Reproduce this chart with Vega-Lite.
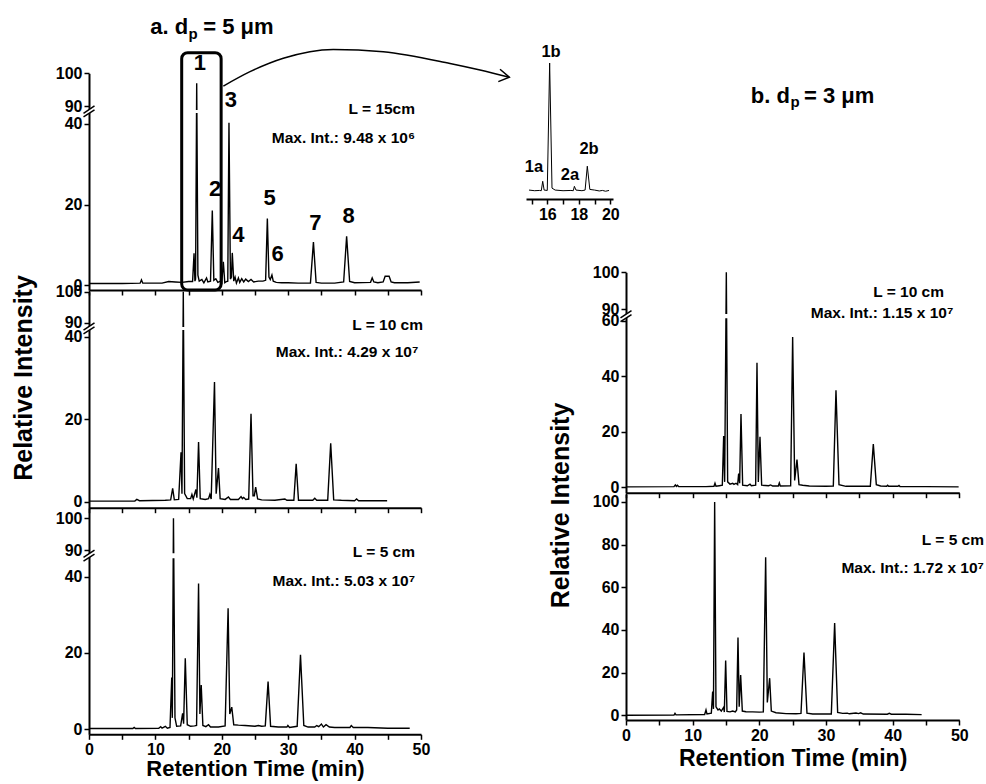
{
"$schema": "https://vega.github.io/schema/vega-lite/v6.json",
"width": 986, "height": 784, "autosize": "none", "padding": 0, "background": "white",
"config": {
 "view": {"stroke": null},
 "font": "Liberation Sans",
 "axis": {"grid": false, "domainColor": "black", "domainWidth": 2, "tickColor": "black", "tickWidth": 1.5, "tickSize": 5, "labelFont": "Liberation Sans", "labelFontWeight": "bold", "labelFontSize": 16, "labelColor": "black", "labelPadding": 2, "labelFlush": false, "labelOverlap": false, "titleFont": "Liberation Sans", "titleFontWeight": "bold", "titleColor": "black"},
 "text": {"font": "Liberation Sans", "fontWeight": "bold", "color": "black"}
},
"datasets": {
 "tl": [{"t":0.1,"v":0.4},{"t":5,"v":0.4},{"t":7.7,"v":0.5},{"t":7.9,"v":1.3},{"t":8.1,"v":0.5},{"t":11,"v":0.5},{"t":12,"v":0.9},{"t":13,"v":0.8},{"t":14,"v":0.7},{"t":15,"v":0.9},{"t":15.6,"v":0.9},{"t":15.82,"v":7.9},{"t":15.95,"v":1.0},{"t":16.05,"v":1.5},{"t":16.22,"v":97},{"t":16.4,"v":2.5},{"t":16.6,"v":1.0},{"t":17.0,"v":1.4},{"t":17.3,"v":0.6},{"t":17.7,"v":1.8},{"t":17.9,"v":0.8},{"t":18.3,"v":1.0},{"t":18.57,"v":18.5},{"t":18.8,"v":1.2},{"t":19.1,"v":1.6},{"t":19.4,"v":0.7},{"t":19.8,"v":1.0},{"t":20.0,"v":0.6},{"t":20.23,"v":5.8},{"t":20.45,"v":0.6},{"t":20.7,"v":0.9},{"t":20.9,"v":1.0},{"t":21.08,"v":40.3},{"t":21.3,"v":1.5},{"t":21.45,"v":2.0},{"t":21.58,"v":8.0},{"t":21.8,"v":1.0},{"t":22.0,"v":2.0},{"t":22.2,"v":0.5},{"t":22.5,"v":1.8},{"t":22.7,"v":0.7},{"t":23.0,"v":1.6},{"t":23.3,"v":0.8},{"t":23.6,"v":1.5},{"t":24.0,"v":0.9},{"t":24.4,"v":1.4},{"t":24.8,"v":0.8},{"t":25.5,"v":1.0},{"t":26.2,"v":1.0},{"t":26.6,"v":1.2},{"t":26.86,"v":16.5},{"t":27.1,"v":2.0},{"t":27.3,"v":1.4},{"t":27.55,"v":2.5},{"t":27.75,"v":1.0},{"t":28.2,"v":0.7},{"t":29,"v":0.6},{"t":30,"v":0.6},{"t":31.5,"v":0.5},{"t":33.35,"v":0.5},{"t":33.8,"v":10.7},{"t":34.2,"v":0.7},{"t":35,"v":0.5},{"t":37,"v":0.5},{"t":38.35,"v":0.8},{"t":38.8,"v":12.1},{"t":39.25,"v":0.9},{"t":40,"v":0.6},{"t":42.4,"v":0.7},{"t":42.65,"v":1.8},{"t":42.9,"v":0.8},{"t":43.5,"v":0.6},{"t":44.3,"v":0.8},{"t":44.6,"v":2.2},{"t":45.2,"v":2.2},{"t":45.5,"v":0.8},{"t":46,"v":0.6},{"t":48,"v":0.6},{"t":49.8,"v":0.8}],
 "ml": [{"t":0.1,"v":0.2},{"t":6.9,"v":0.2},{"t":7.2,"v":0.6},{"t":7.6,"v":0.3},{"t":11.5,"v":0.4},{"t":12.3,"v":0.5},{"t":12.6,"v":3.3},{"t":12.85,"v":0.5},{"t":13.5,"v":0.6},{"t":13.86,"v":12},{"t":14.0,"v":2},{"t":14.2,"v":100},{"t":14.4,"v":2},{"t":14.8,"v":0.8},{"t":15.3,"v":0.8},{"t":15.5,"v":1.8},{"t":15.7,"v":0.7},{"t":16.1,"v":3.0},{"t":16.25,"v":1.0},{"t":16.5,"v":14.5},{"t":16.75,"v":0.8},{"t":17.5,"v":0.6},{"t":18.0,"v":0.8},{"t":18.2,"v":1.8},{"t":18.4,"v":0.7},{"t":18.9,"v":29},{"t":19.15,"v":2},{"t":19.5,"v":8.2},{"t":19.75,"v":0.8},{"t":20.5,"v":0.6},{"t":21.0,"v":1.2},{"t":21.3,"v":0.6},{"t":22.5,"v":0.6},{"t":22.9,"v":1.3},{"t":23.1,"v":0.8},{"t":23.3,"v":1.1},{"t":23.6,"v":0.6},{"t":24.05,"v":0.7},{"t":24.4,"v":21.3},{"t":24.7,"v":1.5},{"t":24.9,"v":1.5},{"t":25.1,"v":3.6},{"t":25.4,"v":0.7},{"t":26,"v":0.5},{"t":28,"v":0.4},{"t":29.5,"v":0.7},{"t":29.8,"v":0.4},{"t":30.85,"v":0.4},{"t":31.2,"v":9.2},{"t":31.55,"v":0.4},{"t":33.7,"v":0.4},{"t":34.0,"v":0.9},{"t":34.3,"v":0.4},{"t":35.95,"v":0.4},{"t":36.4,"v":14.2},{"t":36.85,"v":0.5},{"t":38,"v":0.4},{"t":40.0,"v":0.3},{"t":40.3,"v":0.7},{"t":40.6,"v":0.3},{"t":44.9,"v":0.3}],
 "bl": [{"t":0.1,"v":0.2},{"t":6.6,"v":0.2},{"t":6.8,"v":0.5},{"t":7.0,"v":0.2},{"t":10.5,"v":0.3},{"t":10.8,"v":0.7},{"t":11.0,"v":0.3},{"t":11.5,"v":0.8},{"t":11.8,"v":0.3},{"t":12.2,"v":0.5},{"t":12.46,"v":13.6},{"t":12.55,"v":3},{"t":12.72,"v":100},{"t":12.95,"v":3},{"t":13.2,"v":0.8},{"t":13.8,"v":0.9},{"t":14.1,"v":4.2},{"t":14.25,"v":1.5},{"t":14.5,"v":18.6},{"t":14.8,"v":1.2},{"t":15.3,"v":0.8},{"t":15.9,"v":0.9},{"t":16.2,"v":1.0},{"t":16.5,"v":38.2},{"t":16.7,"v":4},{"t":16.9,"v":11.6},{"t":17.15,"v":1.0},{"t":17.6,"v":0.7},{"t":18.0,"v":1.2},{"t":18.3,"v":0.6},{"t":19.5,"v":0.6},{"t":20.5,"v":0.9},{"t":20.95,"v":31.7},{"t":21.2,"v":4},{"t":21.5,"v":5.8},{"t":21.8,"v":1.2},{"t":22.5,"v":1.1},{"t":23.5,"v":1.0},{"t":25,"v":0.8},{"t":25.5,"v":1.0},{"t":26.0,"v":0.8},{"t":26.55,"v":0.9},{"t":26.97,"v":12.5},{"t":27.35,"v":0.8},{"t":28.5,"v":0.6},{"t":29.8,"v":0.6},{"t":29.95,"v":1.0},{"t":30.2,"v":0.5},{"t":31.35,"v":0.8},{"t":31.85,"v":19.5},{"t":32.35,"v":1.0},{"t":33,"v":0.6},{"t":34,"v":0.6},{"t":34.3,"v":1.0},{"t":34.6,"v":0.7},{"t":35.0,"v":1.4},{"t":35.3,"v":0.6},{"t":35.7,"v":1.2},{"t":36.2,"v":0.6},{"t":37,"v":0.5},{"t":39.3,"v":0.5},{"t":39.5,"v":1.0},{"t":39.8,"v":0.5},{"t":42,"v":0.5},{"t":45,"v":0.3},{"t":48.3,"v":0.3}],
 "tr": [{"t":0.1,"v":0.2},{"t":7.2,"v":0.3},{"t":7.4,"v":0.9},{"t":7.55,"v":0.4},{"t":7.7,"v":0.8},{"t":7.9,"v":0.3},{"t":12,"v":0.3},{"t":13.2,"v":0.4},{"t":13.35,"v":1.5},{"t":13.5,"v":0.4},{"t":14.0,"v":0.6},{"t":14.45,"v":0.8},{"t":14.65,"v":18.5},{"t":14.8,"v":2},{"t":15.05,"v":100},{"t":15.25,"v":2},{"t":15.6,"v":1.2},{"t":16.0,"v":1.5},{"t":16.2,"v":1.1},{"t":16.5,"v":1.5},{"t":16.75,"v":1.0},{"t":16.9,"v":5},{"t":17.05,"v":1.5},{"t":17.25,"v":26.4},{"t":17.5,"v":0.8},{"t":18.2,"v":0.6},{"t":18.6,"v":1.2},{"t":18.8,"v":0.6},{"t":19.45,"v":0.8},{"t":19.65,"v":44.9},{"t":19.85,"v":2},{"t":20.1,"v":18.2},{"t":20.35,"v":0.8},{"t":21.4,"v":0.6},{"t":21.7,"v":0.9},{"t":22.0,"v":0.5},{"t":22.85,"v":0.5},{"t":23.0,"v":1.6},{"t":23.15,"v":0.5},{"t":24.7,"v":0.6},{"t":25.0,"v":54.2},{"t":25.3,"v":2.5},{"t":25.65,"v":10},{"t":25.95,"v":1.0},{"t":26.5,"v":0.8},{"t":27.5,"v":0.5},{"t":30,"v":0.4},{"t":31.1,"v":0.5},{"t":31.5,"v":35},{"t":31.95,"v":1.0},{"t":33,"v":0.4},{"t":36.65,"v":0.4},{"t":37.1,"v":15.6},{"t":37.55,"v":1.0},{"t":38.2,"v":0.5},{"t":39.1,"v":0.4},{"t":39.25,"v":0.8},{"t":39.4,"v":0.4},{"t":40.8,"v":0.4},{"t":40.95,"v":0.7},{"t":41.1,"v":0.3},{"t":45,"v":0.3},{"t":49.9,"v":0.2}],
 "br": [{"t":0.1,"v":0.0},{"t":7.2,"v":0.1},{"t":7.35,"v":0.9},{"t":7.5,"v":0.2},{"t":11.8,"v":0.4},{"t":12.0,"v":2.5},{"t":12.15,"v":0.6},{"t":12.8,"v":1.0},{"t":13.0,"v":11.1},{"t":13.12,"v":3},{"t":13.3,"v":100},{"t":13.5,"v":4},{"t":13.8,"v":2.5},{"t":14.0,"v":3},{"t":14.3,"v":2},{"t":14.65,"v":3.8},{"t":14.75,"v":1.5},{"t":14.95,"v":25.7},{"t":15.15,"v":1.8},{"t":15.6,"v":1.6},{"t":16.0,"v":2.0},{"t":16.4,"v":1.6},{"t":16.6,"v":2.5},{"t":16.8,"v":36.5},{"t":16.98,"v":4},{"t":17.2,"v":18.9},{"t":17.45,"v":2.0},{"t":18,"v":1.7},{"t":19,"v":1.6},{"t":20,"v":1.5},{"t":20.6,"v":1.6},{"t":20.95,"v":74},{"t":21.2,"v":6},{"t":21.55,"v":17.4},{"t":21.8,"v":2},{"t":22.5,"v":1.2},{"t":24,"v":0.8},{"t":25.5,"v":0.7},{"t":26.25,"v":0.9},{"t":26.7,"v":29.4},{"t":27.15,"v":1.0},{"t":28,"v":0.6},{"t":30.8,"v":0.6},{"t":31.3,"v":43.2},{"t":31.75,"v":1.4},{"t":32.5,"v":0.9},{"t":33.2,"v":1.0},{"t":33.5,"v":0.7},{"t":34.5,"v":1.1},{"t":34.9,"v":0.8},{"t":35.2,"v":1.2},{"t":35.6,"v":0.6},{"t":39.2,"v":0.5},{"t":39.5,"v":0.9},{"t":39.8,"v":0.5},{"t":42,"v":0.5},{"t":44.35,"v":0.3}],
 "inset": [{"t":14.84,"v":1.5},{"t":15.2,"v":1.0},{"t":15.5,"v":1.2},{"t":15.62,"v":1.0},{"t":15.71,"v":8.3},{"t":15.8,"v":1.5},{"t":16.0,"v":1.2},{"t":16.15,"v":100},{"t":16.3,"v":3},{"t":16.5,"v":1.5},{"t":17.0,"v":1.0},{"t":17.5,"v":1.2},{"t":17.65,"v":1.0},{"t":17.72,"v":4.4},{"t":17.82,"v":1.5},{"t":18.2,"v":1.0},{"t":18.4,"v":1.5},{"t":18.54,"v":20},{"t":18.7,"v":2},{"t":19.0,"v":1.5},{"t":19.3,"v":0.8},{"t":19.5,"v":1.2},{"t":19.7,"v":0.6},{"t":19.92,"v":1.2}],
 "tl_labels": [{"t":16.7,"v":103.1,"label":"1"},{"t":19.0,"v":23.9,"label":"2"},{"t":21.35,"v":91.9,"label":"3"},{"t":22.5,"v":12.4,"label":"4"},{"t":27.2,"v":21.7,"label":"5"},{"t":28.4,"v":7.7,"label":"6"},{"t":34.1,"v":15.4,"label":"7"},{"t":39.1,"v":17.1,"label":"8"}],
 "inset_labels": [{"t":16.24,"v":108.5,"label":"1b"},{"t":15.16,"v":19.4,"label":"1a"},{"t":17.44,"v":13.2,"label":"2a"},{"t":18.65,"v":33.3,"label":"2b"}],
 "arrow": [{"t":20.23,"v":96.1},{"t":24.25,"v":100.5},{"t":29.26,"v":104.6},{"t":36.79,"v":107.3},{"t":44.32,"v":106.6},{"t":54.37,"v":103.0},{"t":58.89,"v":101.0},{"t":63.3,"v":98.8}]
},
"layer": [
 {"layer": [
  {"data": {"name": "tl"}, "mark": {"type": "line", "color": "black", "strokeWidth": 1.4},
   "encoding": {
    "x": {"field": "t", "type": "quantitative", "scale": {"domain": [0, 50], "range": [89, 421], "nice": false, "zero": false}, "axis": {"orient": "bottom", "offset": -494, "values": [0,5,10,15,20,25,30,35,40,45,50], "labels": false, "title": null}},
    "y": {"field": "v", "type": "quantitative", "scale": {"domain": [-1.2, 42.7, 88.8, 100], "range": [290, 113, 110, 73.3], "nice": false, "zero": false}, "axis": {"orient": "left", "offset": -89, "values": [0,20,40,90,100], "title": null}}}},
  {"data": {"values": [{}]}, "mark": {"type": "rect", "fill": "white"}, "encoding": {"x": {"datum": 0.3, "axis": {"title": null}}, "x2": {"datum": 50}, "y": {"datum": 42.7, "axis": {"title": null}}, "y2": {"datum": 88.8}}},
  {"data": {"values": [{}]}, "mark": {"type": "point", "shape": "M-1,0.31L1,-1.02L1,-0.29L-1,0.98Z", "filled": true, "fill": "white", "strokeWidth": 0, "opacity": 1, "size": 121}, "encoding": {"x": {"datum": 0, "axis": {"title": null}}, "y": {"datum": 65, "axis": {"title": null}}}},
  {"data": {"values": [{}]}, "mark": {"type": "point", "shape": "M-1,0.31L1,-1.02M-1,0.98L1,-0.29", "filled": false, "stroke": "black", "strokeWidth": 1.5, "opacity": 1, "size": 121}, "encoding": {"x": {"datum": 0, "axis": {"title": null}}, "y": {"datum": 65, "axis": {"title": null}}}},
  {"data": {"values": [{}]}, "mark": {"type": "rect", "filled": false, "stroke": "black", "strokeWidth": 3, "cornerRadius": 6}, "encoding": {"x": {"datum": 13.96, "axis": {"title": null}}, "x2": {"datum": 19.9}, "y": {"datum": 106.3, "axis": {"title": null}}, "y2": {"datum": -1.2}}},
  {"data": {"name": "arrow"}, "mark": {"type": "line", "color": "black", "strokeWidth": 1.5, "interpolate": "monotone"}, "encoding": {"x": {"field": "t", "type": "quantitative", "axis": {"title": null}}, "y": {"field": "v", "type": "quantitative", "axis": {"title": null}}}},
  {"data": {"values": [{}]}, "mark": {"type": "point", "shape": "M-0.93,-0.8L0,0L-1.1,0.44", "filled": false, "stroke": "black", "strokeWidth": 1.5, "opacity": 1, "size": 400}, "encoding": {"x": {"datum": 63.3, "axis": {"title": null}}, "y": {"datum": 98.8, "axis": {"title": null}}}},
  {"data": {"name": "tl_labels"}, "mark": {"type": "text", "fontSize": 22, "align": "center", "baseline": "middle"}, "encoding": {"x": {"field": "t", "type": "quantitative", "axis": {"title": null}}, "y": {"field": "v", "type": "quantitative", "axis": {"title": null}}, "text": {"field": "label"}}},
  {"data": {"values": [{}]}, "mark": {"type": "text", "text": "L = 15cm", "fontSize": 15.5, "align": "right", "baseline": "middle"}, "encoding": {"x": {"datum": 49.1, "axis": {"title": null}}, "y": {"datum": 89, "axis": {"title": null}}}},
  {"data": {"values": [{}]}, "mark": {"type": "text", "text": "Max. Int.: 9.48 x 10⁶", "fontSize": 15.5, "align": "right", "baseline": "middle"}, "encoding": {"x": {"datum": 49.1, "axis": {"title": null}}, "y": {"datum": 36.6, "axis": {"title": null}}}},
  {"data": {"values": [{}]}, "mark": {"type": "text", "text": "a. d", "fontSize": 22, "align": "right", "baseline": "alphabetic"}, "encoding": {"x": {"datum": 14.95, "axis": {"title": null}}, "y": {"datum": 111.9, "axis": {"title": null}}}},
  {"data": {"values": [{}]}, "mark": {"type": "text", "text": "p", "fontSize": 15, "align": "left", "baseline": "alphabetic"}, "encoding": {"x": {"datum": 15.0, "axis": {"title": null}}, "y": {"datum": 110.6, "axis": {"title": null}}}},
  {"data": {"values": [{}]}, "mark": {"type": "text", "text": "= 5 μm", "fontSize": 22, "align": "left", "baseline": "alphabetic"}, "encoding": {"x": {"datum": 17.2, "axis": {"title": null}}, "y": {"datum": 111.9, "axis": {"title": null}}}}
 ]},
 {"layer": [
  {"data": {"name": "ml"}, "mark": {"type": "line", "color": "black", "strokeWidth": 1.4},
   "encoding": {
    "x": {"field": "t", "type": "quantitative", "scale": {"domain": [0, 50], "range": [89, 421], "nice": false, "zero": false}, "axis": {"orient": "bottom", "offset": -276.3, "values": [0,5,10,15,20,25,30,35,40,45,50], "labels": false, "title": null}},
    "y": {"field": "v", "type": "quantitative", "scale": {"domain": [-1.4, 41.6, 88.6, 100], "range": [507.7, 330, 327, 291.7], "nice": false, "zero": false}, "axis": {"orient": "left", "offset": -89, "values": [0,20,40,90,100], "title": "Relative Intensity", "titleFontSize": 25, "titleX": -58, "titleY": 377.5, "titleAngle": -90, "titleAlign": "center", "titleBaseline": "alphabetic"}}}},
  {"data": {"values": [{}]}, "mark": {"type": "rect", "fill": "white"}, "encoding": {"x": {"datum": 0.3}, "x2": {"datum": 50}, "y": {"datum": 41.6}, "y2": {"datum": 88.6}}},
  {"data": {"values": [{}]}, "mark": {"type": "point", "shape": "M-1,0.31L1,-1.02L1,-0.29L-1,0.98Z", "filled": true, "fill": "white", "strokeWidth": 0, "opacity": 1, "size": 121}, "encoding": {"x": {"datum": 0}, "y": {"datum": 65}}},
  {"data": {"values": [{}]}, "mark": {"type": "point", "shape": "M-1,0.31L1,-1.02M-1,0.98L1,-0.29", "filled": false, "stroke": "black", "strokeWidth": 1.5, "opacity": 1, "size": 121}, "encoding": {"x": {"datum": 0}, "y": {"datum": 65}}},
  {"data": {"values": [{}]}, "mark": {"type": "text", "text": "L = 10 cm", "fontSize": 15.5, "align": "right", "baseline": "middle"}, "encoding": {"x": {"datum": 50.3}, "y": {"datum": 89.2}}},
  {"data": {"values": [{}]}, "mark": {"type": "text", "text": "Max. Int.: 4.29 x 10⁷", "fontSize": 15.5, "align": "right", "baseline": "middle"}, "encoding": {"x": {"datum": 49.6}, "y": {"datum": 36.2}}}
 ]},
 {"layer": [
  {"data": {"name": "bl"}, "mark": {"type": "line", "color": "black", "strokeWidth": 1.4},
   "encoding": {
    "x": {"field": "t", "type": "quantitative", "scale": {"domain": [0, 50], "range": [89, 421], "nice": false, "zero": false}, "axis": {"orient": "bottom", "offset": -49.7, "values": [0,5,10,15,20,25,30,35,40,45,50], "labelExpr": "datum.value % 10 === 0 ? datum.label : ''", "title": "Retention Time (min)", "titleFontSize": 22, "titlePadding": 1}},
    "y": {"field": "v", "type": "quantitative", "scale": {"domain": [-1.3, 44.8, 89, 103.3], "range": [734.3, 558.3, 553.3, 507.7], "nice": false, "zero": false}, "axis": {"orient": "left", "offset": -89, "values": [0,20,40,90,100], "title": null}}}},
  {"data": {"values": [{}]}, "mark": {"type": "rect", "fill": "white"}, "encoding": {"x": {"datum": 0.3}, "x2": {"datum": 50}, "y": {"datum": 44.8}, "y2": {"datum": 89}}},
  {"data": {"values": [{}]}, "mark": {"type": "point", "shape": "M-1,0.31L1,-1.02L1,-0.29L-1,0.98Z", "filled": true, "fill": "white", "strokeWidth": 0, "opacity": 1, "size": 121}, "encoding": {"x": {"datum": 0}, "y": {"datum": 67}}},
  {"data": {"values": [{}]}, "mark": {"type": "point", "shape": "M-1,0.31L1,-1.02M-1,0.98L1,-0.29", "filled": false, "stroke": "black", "strokeWidth": 1.5, "opacity": 1, "size": 121}, "encoding": {"x": {"datum": 0}, "y": {"datum": 67}}},
  {"data": {"values": [{}]}, "mark": {"type": "text", "text": "L = 5 cm", "fontSize": 15.5, "align": "right", "baseline": "middle"}, "encoding": {"x": {"datum": 49.1}, "y": {"datum": 89.3}}},
  {"data": {"values": [{}]}, "mark": {"type": "text", "text": "Max. Int.: 5.03 x 10⁷", "fontSize": 15.5, "align": "right", "baseline": "middle"}, "encoding": {"x": {"datum": 49.1}, "y": {"datum": 38.9}}}
 ]},
 {"layer": [
  {"data": {"name": "tr"}, "mark": {"type": "line", "color": "black", "strokeWidth": 1.4},
   "encoding": {
    "x": {"field": "t", "type": "quantitative", "scale": {"domain": [0, 50], "range": [626, 959.3], "nice": false, "zero": false}, "axis": {"orient": "bottom", "offset": -291.3, "values": [0,5,10,15,20,25,30,35,40,45,50], "labels": false, "title": null}},
    "y": {"field": "v", "type": "quantitative", "scale": {"domain": [-1.9, 60.9, 88.7, 100], "range": [492.7, 318.3, 314, 272.3], "nice": false, "zero": false}, "axis": {"orient": "left", "offset": -626, "values": [0,20,40,60,90,100], "title": null}}}},
  {"data": {"values": [{}]}, "mark": {"type": "rect", "fill": "white"}, "encoding": {"x": {"datum": 0.3, "axis": {"title": null}}, "x2": {"datum": 50}, "y": {"datum": 60.9, "axis": {"title": null}}, "y2": {"datum": 88.7}}},
  {"data": {"values": [{}]}, "mark": {"type": "point", "shape": "M-1,0.31L1,-1.02L1,-0.29L-1,0.98Z", "filled": true, "fill": "white", "strokeWidth": 0, "opacity": 1, "size": 121}, "encoding": {"x": {"datum": 0, "axis": {"title": null}}, "y": {"datum": 75, "axis": {"title": null}}}},
  {"data": {"values": [{}]}, "mark": {"type": "point", "shape": "M-1,0.31L1,-1.02M-1,0.98L1,-0.29", "filled": false, "stroke": "black", "strokeWidth": 1.5, "opacity": 1, "size": 121}, "encoding": {"x": {"datum": 0, "axis": {"title": null}}, "y": {"datum": 75, "axis": {"title": null}}}},
  {"data": {"values": [{}]}, "mark": {"type": "text", "text": "L = 10 cm", "fontSize": 15.5, "align": "right", "baseline": "middle"}, "encoding": {"x": {"datum": 47.7, "axis": {"title": null}}, "y": {"datum": 94.7, "axis": {"title": null}}}},
  {"data": {"values": [{}]}, "mark": {"type": "text", "text": "Max. Int.: 1.15 x 10⁷", "fontSize": 15.5, "align": "right", "baseline": "middle"}, "encoding": {"x": {"datum": 49.1, "axis": {"title": null}}, "y": {"datum": 88.9, "axis": {"title": null}}}},
  {"data": {"values": [{}]}, "mark": {"type": "text", "text": "b. d", "fontSize": 22, "align": "right", "baseline": "alphabetic"}, "encoding": {"x": {"datum": 24.6, "axis": {"title": null}}, "y": {"datum": 145.8, "axis": {"title": null}}}},
  {"data": {"values": [{}]}, "mark": {"type": "text", "text": "p", "fontSize": 15, "align": "left", "baseline": "alphabetic"}, "encoding": {"x": {"datum": 24.67, "axis": {"title": null}}, "y": {"datum": 144.7, "axis": {"title": null}}}},
  {"data": {"values": [{}]}, "mark": {"type": "text", "text": "= 3 μm", "fontSize": 22, "align": "left", "baseline": "alphabetic"}, "encoding": {"x": {"datum": 26.7, "axis": {"title": null}}, "y": {"datum": 145.8, "axis": {"title": null}}}}
 ]},
 {"layer": [
  {"data": {"name": "br"}, "mark": {"type": "line", "color": "black", "strokeWidth": 1.4},
   "encoding": {
    "x": {"field": "t", "type": "quantitative", "scale": {"domain": [0, 50], "range": [626, 959.3], "nice": false, "zero": false}, "axis": {"orient": "bottom", "offset": -64, "values": [0,5,10,15,20,25,30,35,40,45,50], "labelExpr": "datum.value % 10 === 0 ? datum.label : ''", "title": "Retention Time (min)", "titleFontSize": 23, "titlePadding": 4}},
    "y": {"field": "v", "type": "quantitative", "scale": {"domain": [-2.2, 103.7], "range": [720, 494], "nice": false, "zero": false}, "axis": {"orient": "left", "offset": -626, "values": [0,20,40,60,80,100], "title": "Relative Intensity", "titleFontSize": 25, "titleX": -58, "titleY": 505, "titleAngle": -90, "titleAlign": "center", "titleBaseline": "alphabetic"}}}},
  {"data": {"values": [{}]}, "mark": {"type": "text", "text": "L = 5 cm", "fontSize": 15.5, "align": "right", "baseline": "middle"}, "encoding": {"x": {"datum": 53.7}, "y": {"datum": 82}}},
  {"data": {"values": [{}]}, "mark": {"type": "text", "text": "Max. Int.: 1.72 x 10⁷", "fontSize": 15.5, "align": "right", "baseline": "middle"}, "encoding": {"x": {"datum": 53.7}, "y": {"datum": 69}}}
 ]},
 {"layer": [
  {"data": {"name": "inset"}, "mark": {"type": "line", "color": "black", "strokeWidth": 1},
   "encoding": {
    "x": {"field": "t", "type": "quantitative", "scale": {"domain": [14.65, 20.17], "range": [526, 613], "nice": false, "zero": false}, "axis": {"orient": "bottom", "offset": -585, "values": [15,16,17,18,19,20], "format": "d", "labelExpr": "datum.value % 2 === 0 ? datum.label : ''", "title": null}},
    "y": {"field": "v", "type": "quantitative", "scale": {"domain": [0, 100], "range": [192, 63], "nice": false, "zero": false}, "axis": null}}},
  {"data": {"name": "inset_labels"}, "mark": {"type": "text", "fontSize": 16.5, "align": "center", "baseline": "middle"}, "encoding": {"x": {"field": "t", "type": "quantitative", "axis": {"title": null}}, "y": {"field": "v", "type": "quantitative", "axis": null}, "text": {"field": "label"}}}
 ]}
],
"resolve": {"scale": {"x": "independent", "y": "independent"}, "axis": {"x": "independent", "y": "independent"}}
}
